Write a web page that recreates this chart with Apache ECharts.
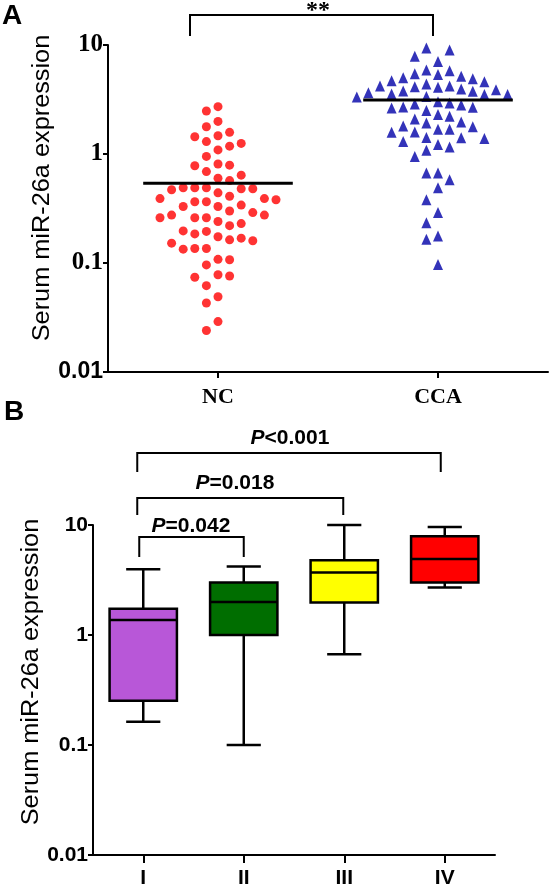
<!DOCTYPE html>
<html><head><meta charset="utf-8">
<script src="https://cdn.jsdelivr.net/npm/echarts@6/dist/echarts.min.js"></script>
<style>html,body{margin:0;padding:0;background:#fff}#c{width:550px;height:889px}</style>
</head><body><div id="c"></div>
<script>
// ---------- DATA ----------
const groupsA = ['NC', 'CCA'];
const ncValues = [2.72, 2.48, 1.99, 1.78, 1.58, 1.44, 1.47, 1.30, 1.18, 1.25, 1.09, 0.95,
  0.79, 0.78, 0.81, 0.69, 0.64, 0.60, 0.57,
  0.47, 0.49, 0.48, 0.48, 0.49, 0.49, 0.44,
  0.41, 0.39, 0.365, 0.365, 0.38, 0.39,
  0.33, 0.33, 0.34,
  0.30, 0.29, 0.275, 0.26, 0.26, 0.26, 0.275, 0.24, 0.22, 0.23,
  0.195, 0.185, 0.197,
  0.169, 0.160, 0.152, 0.163, 0.174,
  0.136, 0.134, 0.136,
  0.107, 0.096, 0.108,
  0.076, 0.074, 0.078, 0.062,
  0.049, 0.043,
  0.029, 0.024];
const ccaValues = [10.1, 9.4, 9.0, 7.9, 7.06, 5.9, 5.81, 5.36, 5.45, 5.16, 5.0, 4.91, 4.70, 4.61,
  4.21, 4.39, 4.14, 3.95, 3.76, 3.65, 3.52, 3.37, 3.33, 3.52, 3.55, 3.78, 3.89, 4.09, 4.21,
  2.94, 2.82, 2.68, 2.51, 2.64, 2.70, 2.87, 3.02,
  2.22, 1.92, 1.81, 1.78, 1.97, 2.10, 2.30,
  1.69, 1.58, 1.42, 1.30, 1.39, 1.41, 1.59, 1.69,
  1.22, 1.16, 1.08, 0.95,
  0.67, 0.67, 0.58, 0.49, 0.38, 0.29, 0.234, 0.177, 0.165, 0.097];
const mediansA = [0.54, 3.13];
const yTickValues = [0.01, 0.1, 1, 10];

const stagesB = ['I', 'II', 'III', 'IV'];
// [min, Q1, median, Q3, max]
const boxStageI = [0.163, 0.253, 1.37, 1.73, 3.95];
const boxStageII = [0.10, 1.0, 2.0, 3.0, 4.2];
const boxStageIII = [0.67, 1.97, 3.7, 4.77, 10.0];
const boxStageIV = [2.7, 3.0, 4.9, 7.9, 9.6];
const pLabels = ['0.042', '0.018', '<0.001'];

// ---------- CHART ----------
const boxColors = ['#B857D8', '#006E00', '#FFFF00', '#FF0000'];
const chart = echarts.init(document.getElementById('c'), null, {renderer: 'canvas'});
const SERIF = '"Liberation Serif","Times New Roman",serif';
const SANS = '"Liberation Sans",Arial,sans-serif';

function yAxisCfg(gridIndex, rich) {
  return {
    type: 'log', logBase: 10, gridIndex, min: 0.01, max: 10,
    axisLine: {show: true, onZero: false, lineStyle: {color: '#000', width: 2}},
    axisTick: {show: true, length: 5, lineStyle: {color: '#000', width: 2}},
    splitLine: {show: false},
    axisLabel: rich
  };
}

const baseOption = {
  animation: false,
  grid: [
    {left: 108, top: 45, width: 440, height: 327},
    {left: 93, top: 525, width: 402, height: 330}
  ],
  xAxis: [
    {type: 'category', gridIndex: 0, data: groupsA, position: 'bottom',
      axisLine: {show: true, onZero: false, lineStyle: {color: '#000', width: 2}},
      axisTick: {show: true, alignWithLabel: true, length: 6, lineStyle: {color: '#000', width: 2}},
      axisLabel: {color: '#000', fontFamily: SERIF, fontWeight: 'bold', fontSize: 22, margin: 14}},
    {type: 'value', gridIndex: 0, min: -0.5, max: 1.5, show: false},
    {type: 'category', gridIndex: 1, data: stagesB, position: 'bottom',
      axisLine: {show: true, onZero: false, lineStyle: {color: '#000', width: 2}},
      axisTick: {show: true, alignWithLabel: true, length: 8, lineStyle: {color: '#000', width: 2}},
      axisLabel: {color: '#000', fontFamily: SANS, fontWeight: 'bold', fontSize: 21, margin: 13}}
  ],
  yAxis: [
    yAxisCfg(0, {
      margin: 5,
      formatter: v => (Math.abs(v - 0.01) < 1e-9 ? '{s|0.01}' : '{t|' + (v >= 1 ? Math.round(v) : v) + '}'),
      rich: {
        s: {fontFamily: SANS, fontWeight: 'bold', fontSize: 23, color: '#000'},
        t: {fontFamily: SERIF, fontWeight: 'bold', fontSize: 25, color: '#000'}
      }
    }),
    yAxisCfg(1, {margin: 5, color: '#000', fontFamily: SANS, fontWeight: 'bold', fontSize: 21,
      formatter: v => (v >= 1 ? String(Math.round(v)) : String(v))})
  ],
  series: []
};
chart.setOption(baseOption);

// beeswarm layout derived from values through the axis scale
function swarm(values, g, spacingPx, minGap) {
  const pxPerUnit = chart.convertToPixel({xAxisIndex: 1}, 1) - chart.convertToPixel({xAxisIndex: 1}, 0);
  const placed = [];
  const out = new Array(values.length);
  const order = values.map((v, i) => i).sort((a, b) => values[b] - values[a]);
  order.forEach(i => {
    const y = chart.convertToPixel({yAxisIndex: 0}, values[i]);
    for (let k = 0; k < 40; k++) {
      const col = k === 0 ? 0 : (k % 2 ? -Math.ceil(k / 2) : Math.ceil(k / 2));
      if (!placed.some(p => p.col === col && Math.abs(p.y - y) < minGap)) {
        placed.push({col, y});
        out[i] = [g + col * spacingPx / pxPerUnit, values[i]];
        break;
      }
    }
  });
  return out;
}

const halfMed = 0.34;
const boxes = [boxStageI, boxStageII, boxStageIII, boxStageIV].map((b, i) => [i].concat(b));

const cxA = c => chart.convertToPixel({xAxisIndex: 0}, c);
const cxB = c => chart.convertToPixel({xAxisIndex: 2}, c);

function bracket(x1, x2, yTop, yBot) {
  return {type: 'polyline', shape: {points: [[x1, yBot], [x1, yTop], [x2, yTop], [x2, yBot]]},
    style: {stroke: '#000', lineWidth: 2, fill: null}};
}
function pText(x, y, txt) {
  return {type: 'text', x, y, style: {
    text: '{i|P}{b|' + (txt[0] === '<' ? txt : '=' + txt) + '}',
    align: 'center', verticalAlign: 'bottom',
    rich: {
      i: {fontFamily: SANS, fontStyle: 'italic', fontWeight: 'bold', fontSize: 21, fill: '#000'},
      b: {fontFamily: SANS, fontWeight: 'bold', fontSize: 21, fill: '#000'}
    }
  }};
}

const I = cxB('I'), II = cxB('II'), III = cxB('III'), IV = cxB('IV');

chart.setOption({
  series: [
    {type: 'scatter', xAxisIndex: 1, yAxisIndex: 0, symbol: 'circle', symbolSize: 9,
      itemStyle: {color: '#FF0000'}, data: swarm(ncValues, 0, 11.6, 13.5), z: 3},
    {type: 'scatter', xAxisIndex: 1, yAxisIndex: 0, symbol: 'triangle', symbolSize: [10, 11],
      itemStyle: {color: '#0000A8'}, data: swarm(ccaValues, 1, 11.6, 12.5), z: 3},
    {type: 'line', xAxisIndex: 1, yAxisIndex: 0, symbol: 'none', z: 4,
      lineStyle: {color: '#000', width: 3},
      data: [[0 - halfMed, mediansA[0]], [0 + halfMed, mediansA[0]]]},
    {type: 'line', xAxisIndex: 1, yAxisIndex: 0, symbol: 'none', z: 4,
      lineStyle: {color: '#000', width: 3},
      data: [[1 - halfMed, mediansA[1]], [1 + halfMed, mediansA[1]]]},
    {type: 'custom', xAxisIndex: 2, yAxisIndex: 1, data: boxes,
      renderItem: (params, api) => {
        const x = api.value(0);
        const v = [1, 2, 3, 4, 5].map(i => api.value(i));
        const p = v.map(val => api.coord([x, val]));
        const cx = p[0][0];
        const band = api.size([1, 0])[0];
        const bh = band * 0.335, ch = band * 0.17;
        const ls = {stroke: '#000', lineWidth: 2.5};
        return {type: 'group', children: [
          {type: 'line', shape: {x1: cx, y1: p[4][1], x2: cx, y2: p[3][1]}, style: ls},
          {type: 'line', shape: {x1: cx, y1: p[1][1], x2: cx, y2: p[0][1]}, style: ls},
          {type: 'line', shape: {x1: cx - ch, y1: p[4][1], x2: cx + ch, y2: p[4][1]}, style: ls},
          {type: 'line', shape: {x1: cx - ch, y1: p[0][1], x2: cx + ch, y2: p[0][1]}, style: ls},
          {type: 'rect', shape: {x: cx - bh, y: p[3][1], width: 2 * bh, height: p[1][1] - p[3][1]},
            style: {fill: boxColors[params.dataIndex], stroke: '#000', lineWidth: 2.5}},
          {type: 'line', shape: {x1: cx - bh, y1: p[2][1], x2: cx + bh, y2: p[2][1]}, style: ls}
        ]};
      }}
  ],
  graphic: [
    {type: 'text', x: 2, y: 2, style: {text: 'A', fontFamily: SANS, fontWeight: 'bold', fontSize: 28, fill: '#000'}},
    {type: 'text', x: 4, y: 398, style: {text: 'B', fontFamily: SANS, fontWeight: 'bold', fontSize: 28, fill: '#000'}},
    {type: 'text', x: 43, y: 188, rotation: Math.PI / 2, scaleX: 1.1,
      style: {text: 'Serum miR-26a expression', fontFamily: SANS, fontSize: 23, fill: '#000', align: 'center', verticalAlign: 'middle'}},
    {type: 'text', x: 32, y: 672, rotation: Math.PI / 2, scaleX: 1.1,
      style: {text: 'Serum miR-26a expression', fontFamily: SANS, fontSize: 23, fill: '#000', align: 'center', verticalAlign: 'middle'}},
    bracket(cxA('NC') - 28, cxA('CCA') - 5, 15, 36),
    {type: 'text', x: 318, y: -1, style: {text: '**', fontFamily: SERIF, fontWeight: 'bold', fontSize: 24, fill: '#000', align: 'center', verticalAlign: 'top'}},
    bracket(I - 4, II, 537, 557),
    bracket(I - 6, III - 1, 498, 515),
    bracket(I - 6, IV - 4, 453, 472),
    pText(191, 537, pLabels[0]),
    pText(235, 494, pLabels[1]),
    pText(290, 449, pLabels[2])
  ]
});
</script></body></html>
